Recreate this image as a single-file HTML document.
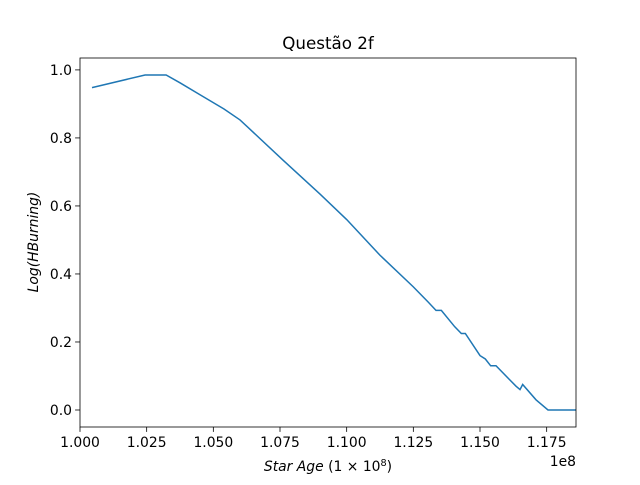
<!DOCTYPE html>
<html><head><meta charset="utf-8"><style>
body{margin:0;background:#fff;}
svg{font-family:"DejaVu Sans","Liberation Sans",sans-serif;}
</style></head><body>
<svg id="chart" width="640" height="480" viewBox="0 0 640 480">
<rect width="640" height="480" fill="#fff"/>
<text x="328" y="49" text-anchor="middle" font-size="16.7">Questão 2f</text>
<g id="plot"></g>
</svg>
<script>
const xValues=[1.0045,1.0244,1.0323,1.0375,1.045,1.054,1.060,1.0761,1.090,1.100,1.1125,1.125,1.1305,1.1335,1.1355,1.1405,1.143,1.1445,1.150,1.152,1.154,1.156,1.1635,1.165,1.166,1.171,1.1755,1.186];
const yValues=[0.948,0.985,0.985,0.962,0.927,0.885,0.853,0.735,0.635,0.560,0.455,0.362,0.318,0.293,0.293,0.245,0.225,0.225,0.16,0.15,0.13,0.13,0.07,0.06,0.075,0.03,0.0,0.0];
const xTicks=[1.000,1.025,1.050,1.075,1.100,1.125,1.150,1.175];
const xTickLabels=["1.000","1.025","1.050","1.075","1.100","1.125","1.150","1.175"];
const yTicks=[0,0.2,0.4,0.6,0.8,1.0];
const yTickLabels=["0.0","0.2","0.4","0.6","0.8","1.0"];
const L=80,R=576,T=58,B=427;
const xMin=1.0,xMax=1.186,yMin=-0.05,yMax=1.035;
const sx=v=>L+(v-xMin)/(xMax-xMin)*(R-L);
const sy=v=>B-(v-yMin)/(yMax-yMin)*(B-T);
const NS="http://www.w3.org/2000/svg";
const g=document.getElementById('plot');
function mk(t,a){const e=document.createElementNS(NS,t);for(const k in a)e.setAttribute(k,a[k]);g.appendChild(e);return e;}
const defs=document.createElementNS(NS,'defs');defs.innerHTML='<clipPath id="c"><rect x="80" y="58" width="496" height="369"/></clipPath>';g.appendChild(defs);
const d=xValues.map((x,i)=>(i?'L':'M')+sx(x).toFixed(2)+','+sy(yValues[i]).toFixed(2)).join('');
const line=mk('path',{d:d,fill:'none',stroke:'#1f77b4','stroke-width':1.5,'clip-path':'url(#c)'});


const frame=mk('rect',{x:L,y:T,width:R-L,height:B-T,fill:'none',stroke:'#000','stroke-width':0.8});


xTicks.forEach((v,i)=>{const x=sx(v);
 const t=mk('line',{x1:x,x2:x,y1:B,y2:B+4.9,stroke:'#000','stroke-width':0.8});
 
 
 const l=mk('text',{x:x,y:B+20,'text-anchor':'middle','font-size':13.9});l.textContent=xTickLabels[i];
 
 });
yTicks.forEach((v,i)=>{const y=sy(v);
 const t=mk('line',{x1:L-4.9,x2:L,y1:y,y2:y,stroke:'#000','stroke-width':0.8});
 
 
 const l=mk('text',{x:L-8,y:y+5,'text-anchor':'end','font-size':13.9});l.textContent=yTickLabels[i];
 
 });
const off=mk('text',{x:576,y:466,'text-anchor':'end','font-size':13.9});off.textContent='1e8';


const xt=mk('text',{x:328,y:471,'text-anchor':'middle','font-size':13.9});
xt.innerHTML='<tspan font-style="italic">Star Age</tspan> (1 × 10<tspan dy="-5" font-size="9.7">8</tspan><tspan dy="5">)</tspan>';


const yt=mk('text',{x:0,y:0,'text-anchor':'middle','font-size':13.9,'font-style':'italic',transform:'translate(38,242) rotate(-90)'});
yt.textContent='Log(HBurning)';


</script>
</body></html>
